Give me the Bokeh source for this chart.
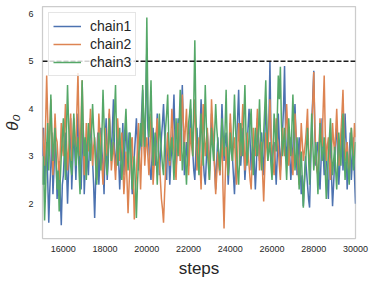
from bokeh.plotting import figure
from bokeh.models import Span, Legend, LegendItem, FixedTicker, BasicTickFormatter
from bokeh.embed import file_html
from bokeh.resources import INLINE

start_step = 15000
step_size = 50

chain1 = [3.0, 3.6, 2.4, 2.9, 3.3, 2.5, 1.6, 2.3, 2.8, 3.5, 2.2, 2.7, 3.4, 3.0, 2.1, 2.6, 2.9, 2.2, 1.55, 2.4,
          2.6, 3.1, 3.5, 2.8, 2.0, 2.7, 3.2, 3.8, 2.3, 2.9, 3.6, 3.1, 2.5, 3.3, 3.9, 3.2, 2.7, 2.3, 3.1, 3.7,
          2.2, 2.8, 3.4, 2.9, 2.6, 3.2, 3.8, 3.3, 2.9, 2.4, 1.7, 2.5, 3.0, 3.5, 2.4, 2.9, 3.6, 3.1, 2.8, 2.2,
          3.3, 3.8, 2.5, 2.9, 3.9, 3.4, 3.0, 3.6, 4.2, 3.2, 2.7, 3.1, 3.5, 2.9, 2.3, 2.8, 3.1, 3.7, 2.6, 3.2,
          3.7, 3.2, 2.9, 3.5, 3.4, 2.8, 2.2, 2.7, 3.0, 3.4, 3.8, 3.3, 2.7, 3.1, 3.3, 3.9, 4.4, 3.6, 3.0, 4.1,
          5.28, 3.6, 3.2, 2.7, 2.5, 3.0, 3.6, 3.1, 2.8, 3.3, 3.9, 3.4, 2.6, 3.0, 3.4, 3.7, 4.1, 3.5, 2.9, 2.5,
          3.5, 3.0, 2.4, 2.9, 3.2, 3.7, 4.3, 3.4, 2.7, 3.2, 3.8, 3.3, 3.0, 3.9, 4.5, 3.6, 2.6, 3.0, 3.3, 2.8,
          2.8, 3.4, 4.0, 3.5, 3.1, 2.7, 2.5, 3.1, 3.6, 3.2, 2.9, 3.5, 4.2, 3.6, 3.0, 2.6, 2.4, 2.9, 3.5, 3.1,
          2.7, 3.3, 3.9, 3.4, 3.2, 2.8, 2.3, 2.9, 3.4, 3.0, 2.6, 3.3, 4.1, 3.5, 2.9, 3.3, 3.5, 3.0, 2.4, 2.9,
          3.7, 3.3, 3.0, 2.6, 2.2, 2.8, 3.3, 3.8, 4.4, 3.5, 2.8, 3.2, 3.6, 3.1, 2.5, 2.9, 3.1, 3.6, 4.0, 3.3,
          2.7, 3.1, 3.4, 2.9, 2.3, 2.8, 3.8, 3.3, 2.9, 3.4, 3.5, 3.0, 2.6, 3.3, 4.2, 3.6, 3.1, 3.7, 5.0, 3.4,
          2.8, 3.2, 3.3, 2.9, 2.4, 3.0, 3.9, 3.3, 2.7, 3.1, 3.5, 4.0, 4.9, 3.5, 2.9, 3.2, 3.6, 3.0, 2.5, 2.9,
          3.2, 3.7, 4.1, 3.4, 2.6, 3.0, 3.4, 2.8, 2.2, 2.6, 1.95, 2.5, 3.0, 2.7, 2.4, 2.1, 1.92, 2.8, 3.7, 4.2,
          4.8, 3.5, 2.8, 3.2, 3.3, 2.7, 2.3, 2.9, 3.8, 3.1, 2.6, 3.3, 3.1, 2.5, 2.1, 2.9, 3.5, 2.6, 1.95, 2.4,
          2.9, 3.4, 3.6, 3.0, 2.4, 2.8, 3.2, 3.6, 2.7, 3.1, 3.9, 3.3, 2.3, 2.7, 3.0, 3.5, 2.5, 2.9, 3.4, 2.6,
          2.0]

chain2 = [3.6, 3.2, 2.8, 3.7, 4.7, 3.8, 3.1, 3.6, 4.2, 3.3, 2.6, 3.2, 3.9, 3.4, 3.3, 2.9, 2.5, 3.1, 3.7, 3.2,
          3.0, 3.5, 4.1, 3.4, 2.7, 3.1, 3.5, 3.9, 2.9, 3.4, 3.8, 3.3, 3.2, 4.0, 4.75, 3.6, 3.0, 3.8, 4.6, 3.5,
          2.6, 3.0, 3.7, 3.3, 3.1, 3.5, 4.0, 3.4, 2.8, 3.2, 3.4, 2.9, 2.5, 3.1, 3.9, 3.5, 3.2, 2.8, 2.4, 3.0,
          3.6, 3.2, 3.0, 3.5, 4.0, 3.3, 2.7, 3.0, 3.3, 2.9, 2.5, 3.0, 3.8, 3.4, 2.9, 3.2, 3.5, 2.8, 2.2, 2.6,
          3.1, 2.5, 1.8, 2.4, 2.9, 3.3, 3.4, 2.6, 1.67, 2.2, 2.6, 3.2, 3.7, 3.0, 2.3, 3.0, 4.1, 3.4, 2.8, 3.2,
          3.4, 3.0, 2.6, 3.1, 3.9, 3.3, 2.4, 2.8, 3.2, 3.5, 3.8, 3.1, 2.9, 2.5, 2.1, 1.9, 1.6, 2.2, 2.7, 3.1,
          3.5, 3.0, 2.8, 3.4, 4.0, 3.5, 3.1, 2.8, 2.5, 3.2, 3.7, 3.3, 2.9, 3.6, 4.3, 3.7, 3.2, 3.6, 4.0, 3.3,
          2.6, 3.1, 3.6, 3.2, 3.0, 3.6, 4.2, 3.5, 2.7, 3.0, 3.4, 2.8, 2.3, 3.2, 4.1, 3.5, 3.0, 3.3, 3.6, 3.0,
          2.5, 3.3, 4.2, 3.7, 3.3, 2.7, 2.2, 2.6, 3.1, 2.8, 2.6, 3.0, 3.5, 2.3, 1.48, 2.4, 3.2, 2.9, 2.6, 3.3,
          3.9, 3.4, 2.9, 3.2, 3.4, 2.9, 2.4, 3.0, 3.7, 3.3, 3.0, 3.6, 4.1, 3.4, 2.7, 3.1, 3.5, 3.1, 2.8, 2.5,
          2.3, 2.9, 3.6, 3.2, 3.0, 3.5, 4.0, 3.4, 2.7, 3.0, 3.3, 2.6, 2.05, 2.7, 3.5, 3.2, 2.9, 3.6, 4.2, 3.5,
          3.1, 2.8, 2.6, 3.2, 3.8, 3.4, 3.2, 2.8, 2.5, 3.0, 3.6, 3.3, 3.0, 3.5, 4.1, 3.6, 2.8, 3.1, 3.4, 3.0,
          2.6, 3.2, 3.9, 3.5, 3.1, 2.7, 2.4, 3.0, 3.7, 3.3, 2.9, 3.1, 3.3, 3.6, 4.0, 3.2, 2.7, 3.1, 3.5, 4.1,
          4.77, 3.7, 3.0, 2.7, 2.6, 3.2, 3.8, 3.4, 3.2, 4.0, 4.7, 3.5, 2.9, 3.2, 3.4, 2.9, 2.5, 3.1, 3.7, 3.3,
          3.1, 3.5, 4.0, 3.4, 2.8, 3.1, 3.5, 3.9, 4.4, 3.5, 2.9, 3.1, 3.3, 2.9, 2.6, 3.1, 3.6, 3.2, 3.0, 3.7,
          3.4]

chain3 = [2.4, 3.0, 1.65, 2.3, 3.2, 3.7, 2.7, 3.4, 4.3, 3.5, 2.9, 3.3, 3.6, 2.9, 2.3, 2.7, 1.84, 2.5, 3.0, 3.4,
          3.8, 3.1, 2.5, 3.6, 4.5, 3.7, 3.1, 2.8, 2.6, 3.2, 3.9, 3.4, 2.8, 3.1, 3.4, 2.7, 2.2, 3.3, 4.6, 3.6,
          3.0, 3.4, 2.5, 3.1, 3.7, 3.3, 2.9, 3.5, 4.1, 3.6, 3.3, 2.8, 2.4, 3.0, 3.5, 3.1, 2.7, 3.5, 4.4, 3.7,
          3.1, 2.8, 2.6, 3.2, 3.8, 3.3, 2.9, 3.1, 3.4, 3.9, 4.5, 3.4, 2.8, 3.2, 3.6, 3.0, 2.5, 2.9, 3.2, 3.6,
          4.0, 3.3, 2.7, 3.1, 3.5, 2.9, 2.3, 2.7, 3.0, 2.4, 1.7, 2.4, 2.9, 3.3, 3.7, 3.2, 4.5, 3.8, 3.2, 4.2,
          5.92, 4.1, 3.4, 3.9, 4.6, 3.5, 2.8, 3.2, 3.5, 3.0, 2.4, 3.1, 3.9, 3.4, 3.1, 2.8, 2.6, 3.2, 3.6, 3.9,
          4.3, 3.4, 2.9, 3.2, 3.4, 3.0, 2.5, 3.1, 3.8, 3.3, 3.0, 3.7, 4.4, 3.6, 2.7, 3.0, 3.3, 2.9, 2.4, 3.0,
          3.7, 3.9, 4.2, 3.5, 3.0, 4.1, 5.44, 3.9, 3.2, 2.9, 2.6, 3.3, 3.9, 3.4, 2.8, 3.5, 4.5, 3.7, 3.1, 2.8,
          2.5, 3.0, 3.6, 3.2, 2.9, 3.5, 4.1, 3.6, 3.3, 3.0, 2.7, 3.2, 3.8, 3.4, 3.0, 3.6, 4.4, 3.3, 2.6, 3.0,
          3.5, 3.1, 2.9, 3.6, 4.3, 3.6, 3.1, 2.7, 2.4, 3.0, 3.7, 3.3, 3.0, 3.8, 4.5, 3.5, 2.8, 3.1, 3.4, 3.7,
          4.0, 3.2, 2.6, 3.1, 3.6, 3.2, 3.0, 3.5, 4.2, 3.4, 2.7, 3.1, 3.5, 4.0, 4.6, 3.6, 2.9, 3.1, 3.3, 2.8,
          2.5, 3.1, 3.9, 3.5, 3.1, 3.8, 4.7, 4.2, 4.88, 3.7, 3.0, 3.3, 3.6, 3.0, 2.5, 3.1, 3.8, 3.4, 3.0, 3.6,
          4.3, 3.5, 2.7, 3.0, 3.4, 2.9, 2.3, 2.8, 3.1, 2.5, 1.92, 2.4, 2.8, 3.2, 3.6, 3.0, 2.4, 3.1, 3.9, 3.3,
          2.7, 3.0, 3.3, 2.8, 2.2, 2.9, 3.7, 3.3, 2.9, 3.1, 3.4, 2.7, 2.1, 2.6, 3.0, 3.4, 3.8, 3.1, 2.6, 2.9,
          3.2, 2.7, 2.3, 2.9, 3.5, 3.1, 2.8, 3.4, 3.9, 3.2, 2.5, 2.9, 3.1, 2.7, 2.4, 3.0, 3.6, 3.2, 2.7, 3.0,
          3.3]

chain_names = ["chain1", "chain2", "chain3"]
chain_colors = ["#4c72b0", "#dd8452", "#55a868"]
threshold = 5.0
x_ticks = [16000, 18000, 20000, 22000, 24000, 26000, 28000, 30000]
y_ticks = [2, 3, 4, 5, 6]

steps = [start_step + step_size * i for i in range(len(chain1))]

FONT = "Liberation Sans"
TXT = "#262626"

p = figure(frame_width=313, frame_height=232, output_backend="svg",
           toolbar_location=None, x_range=(15000, 30000), y_range=(1.27, 6.15),
           min_border_left=33, min_border_right=16, min_border_top=6, min_border_bottom=37)
p.background_fill_color = "white"
p.border_fill_color = "white"
p.outline_line_color = "#cccccc"
p.outline_line_width = 1.25
p.xgrid.visible = False
p.ygrid.visible = False

renderers = []
for data, col in zip([chain1, chain2, chain3], chain_colors):
    r = p.line(steps, data, line_color=col, line_width=1.5)
    renderers.append(r)

span = Span(location=threshold, dimension="width", line_color="#1a1a1a",
            line_dash="5 2", line_width=1.5)
p.add_layout(span)

legend = Legend(items=[LegendItem(label=n, renderers=[r]) for n, r in zip(chain_names, renderers)],
                location="top_left")
legend.label_text_font = FONT
legend.label_text_font_size = "14px"
legend.label_text_color = TXT
legend.glyph_width = 28
legend.glyph_height = 18
legend.label_height = 18
legend.label_standoff = 9
legend.spacing = 0
legend.padding = 4
legend.margin = 6
legend.border_line_color = "#cccccc"
legend.border_line_width = 1
legend.background_fill_alpha = 0.8
p.add_layout(legend)

for ax in (p.xaxis[0], p.yaxis[0]):
    ax.axis_line_color = None
    ax.major_tick_line_color = None
    ax.minor_tick_line_color = None
    ax.major_tick_out = 0
    ax.major_tick_in = 0
    ax.minor_tick_out = 0
    ax.minor_tick_in = 0
    ax.major_label_text_font = FONT
    ax.major_label_text_font_size = "9px"
    ax.major_label_text_color = TXT
    ax.axis_label_text_font = FONT
    ax.axis_label_text_color = TXT

p.xaxis.ticker = FixedTicker(ticks=x_ticks)
p.xaxis.formatter = BasicTickFormatter(use_scientific=False)
p.yaxis.ticker = FixedTicker(ticks=y_ticks)
p.xaxis.major_label_standoff = 7
p.yaxis.major_label_standoff = 9
p.xaxis.axis_label = "steps"
p.xaxis.axis_label_text_font_size = "17px"
p.xaxis.axis_label_text_font_style = "normal"
p.xaxis.axis_label_standoff = 4
p.yaxis.axis_label = "θ₀"
p.yaxis.axis_label_text_font_size = "17px"
p.yaxis.axis_label_text_font_style = "italic"
p.yaxis.axis_label_standoff = 3

open("out.html", "w").write(file_html(p, INLINE))
